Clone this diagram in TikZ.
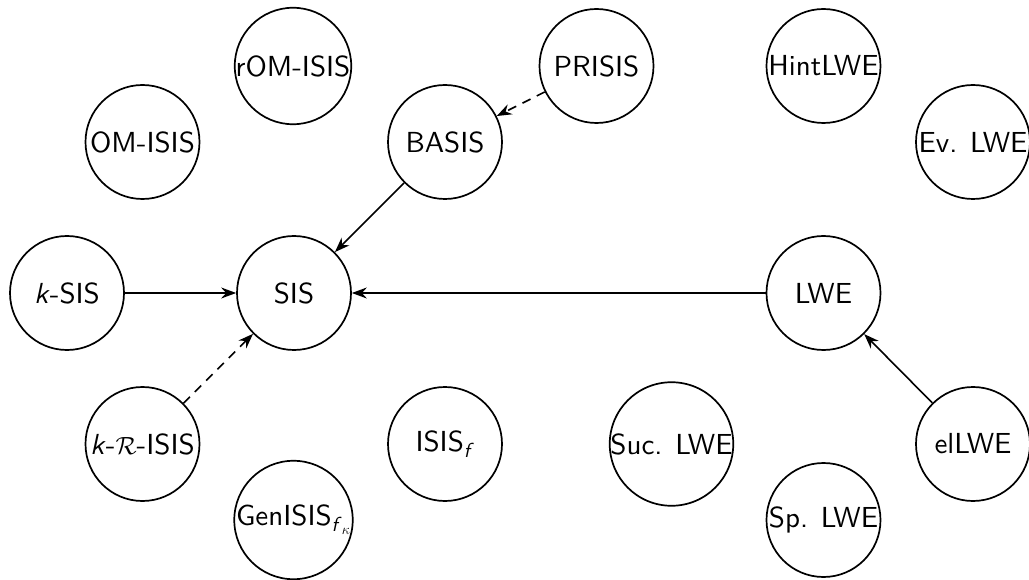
\documentclass[tikz,border=0pt]{standalone}
\usepackage{fontspec}
\setsansfont{lmsans10-regular.otf}[ItalicFont=lmsans10-oblique.otf]
\usetikzlibrary{arrows.meta}
\begin{document}
\begin{tikzpicture}[x=1pt,y=-1pt,
  font=\sffamily\fontsize{29}{35}\selectfont,
  prob/.style={circle,draw,line width=1.7pt,inner sep=0pt,minimum size=114pt},
  red/.style={line width=1.6pt,-{Stealth[length=15pt,width=11pt,inset=5pt]}},
  weak/.style={red,dash pattern=on 9pt off 7pt}]
\useasboundingbox (0,0) rectangle (1029,580);

% problems on the SIS side
\node[prob] (romisis) at (293,66)    {rOM-ISIS};
\node[prob] (prisis)  at (596.5,66)  {PRISIS};
\node[prob] (omisis)  at (142.5,142) {OM-ISIS};
\node[prob] (basis)   at (445,142)   {BASIS};
\node[prob] (ksis)    at (67,293)    {\textit{k}-SIS};
\node[prob] (sis)     at (294,293)   {SIS};
\node[prob] (krisis)  at (142.5,444) {\textit{k}-$\mathcal{R}$-ISIS};
\node[prob] (isisf)   at (445,444)   {ISIS\textsubscript{\textit{f}}};
\node[prob] (genisis) at (293.5,520) {GenISIS\textsubscript{\textit{f}$_{\kappa}$}};

% problems on the LWE side
\node[prob] (hintlwe) at (823.5,66)  {HintLWE};
\node[prob] (evlwe)   at (973,142)   {Ev. LWE};
\node[prob] (lwe)     at (823.5,293) {LWE};
\node[prob] (suclwe)  at (671.5,444) {Suc. LWE};
\node[prob] (ellwe)   at (973,444)   {elLWE};
\node[prob] (splwe)   at (823.5,520) {Sp. LWE};

% reductions
\draw[weak] (prisis) -- (basis);
\draw[red]  (basis)  -- (sis);
\draw[red]  (ksis)   -- (sis);
\draw[red]  (lwe)    -- (sis);
\draw[weak] (krisis) -- (sis);
\draw[red]  (ellwe)  -- (lwe);
\end{tikzpicture}
\end{document}
